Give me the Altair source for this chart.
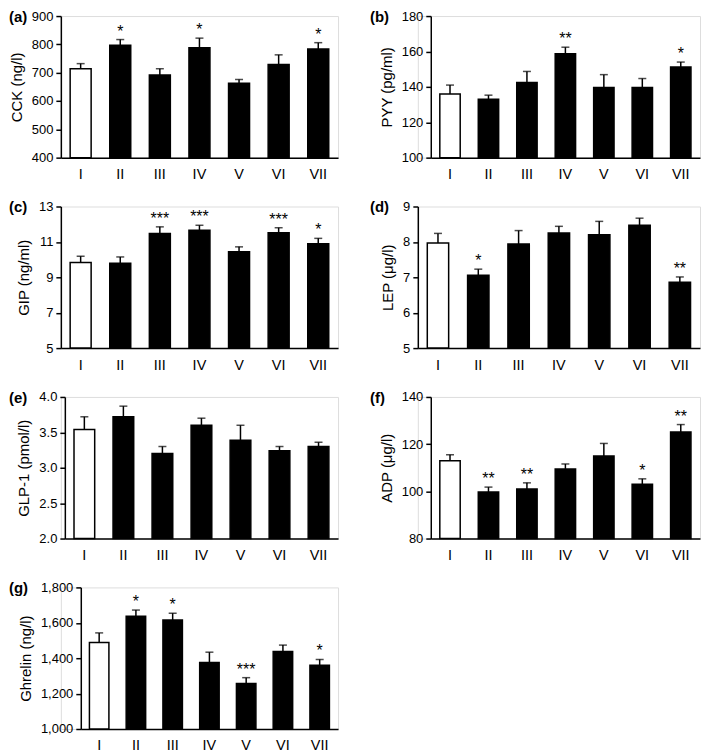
import altair as alt
import pandas as pd

groups = ["I", "II", "III", "IV", "V", "VI", "VII"]

cck_mean = [714, 797, 692, 788, 663, 729, 784]
cck_sem = [18, 20, 22, 34, 13, 34, 22]
cck_sig = ["", "*", "", "*", "", "", "*"]

pyy_mean = [136, 133, 142.4, 158.7, 139.6, 139.6, 151.2]
pyy_sem = [5, 2.3, 6.3, 3.7, 7.3, 5.1, 2.8]
pyy_sig = ["", "", "", "**", "", "", "*"]

gip_mean = [9.84, 9.80, 11.48, 11.66, 10.44, 11.52, 10.90]
gip_sem = [0.35, 0.35, 0.37, 0.28, 0.28, 0.28, 0.30]
gip_sig = ["", "", "***", "***", "", "***", "*"]

lep_mean = [7.97, 7.06, 7.94, 8.25, 8.20, 8.47, 6.86]
lep_sem = [0.27, 0.17, 0.38, 0.19, 0.38, 0.20, 0.15]
lep_sig = ["", "*", "", "", "", "", "**"]

glp_mean = [3.54, 3.72, 3.20, 3.60, 3.39, 3.24, 3.30]
glp_sem = [0.18, 0.15, 0.10, 0.10, 0.21, 0.06, 0.06]
glp_sig = ["", "", "", "", "", "", ""]

adp_mean = [113, 99.7, 101, 109.5, 115, 103, 125.2]
adp_sem = [2.5, 2.1, 2.6, 2.1, 5.3, 2.3, 3.1]
adp_sig = ["", "**", "**", "", "", "*", "**"]

ghr_mean = [1489, 1637, 1616, 1376, 1257, 1438, 1360]
ghr_sem = [54, 35, 38, 58, 33, 36, 33]
ghr_sig = ["", "*", "*", "", "***", "", "*"]

FONT = "Liberation Sans"
H = 142


def panel(label, title, mean, sem, sig, domain, ticks, fmt, width, offset, shift):
    df = pd.DataFrame({
        "group": groups,
        "mean": mean,
        "top": [m + s for m, s in zip(mean, sem)],
        "base": [domain[0]] * len(groups),
        "sig": sig,
        "ctrl": [g == "I" for g in groups],
    })
    xaxis = alt.Axis(title=None, labelAngle=0, ticks=False,
                     labelPadding=10, labelFontSize=14.5, labelColor="black",
                     labelFont=FONT, domainColor="black", domainWidth=1.5)
    xscale = alt.Scale(paddingInner=0.47, paddingOuter=0.235,
                       range=[shift, width])
    yscale = alt.Scale(domain=domain, nice=False, zero=False)
    yaxis = alt.Axis(values=ticks, format=fmt, title=title, grid=False,
                     offset=-shift,
                     tickSize=5, tickWidth=1.5, tickColor="black",
                     domainColor="black", domainWidth=1.5, labelOverlap=False,
                     labelFontSize=13, labelColor="black", labelFont=FONT,
                     labelPadding=3, titleFontSize=15, titleFont=FONT,
                     titleFontWeight="normal", titleColor="black",
                     titlePadding=7)

    def X():
        return alt.X("group:N", sort=groups, scale=xscale, axis=xaxis)

    def Y(f):
        return alt.Y(f, scale=yscale, axis=yaxis, title=title)

    base = alt.Chart(df)
    bars = base.mark_bar(stroke="black", strokeWidth=1.5).encode(
        x=X(), y=Y("mean:Q"), y2="base:Q",
        fill=alt.condition("datum.ctrl", alt.value("white"), alt.value("black")),
    )
    err = base.mark_rule(color="black", strokeWidth=1.5).encode(
        x=X(), y=Y("mean:Q"), y2="top:Q")
    cap = base.mark_tick(color="black", thickness=1.5, size=8,
                         orient="horizontal").encode(x=X(), y=Y("top:Q"))
    stars = base.transform_filter("datum.sig != ''").mark_text(
        baseline="alphabetic", dy=-3, fontSize=16,
        font=FONT, color="black").encode(
        x=X(), y=Y("top:Q"), text="sig:N")
    lab = alt.Chart(pd.DataFrame({"t": [label]})).mark_text(
        align="left", baseline="middle", fontSize=15, fontWeight="bold",
        font=FONT, color="black").encode(
        x=alt.value(-offset), y=alt.value(1), text="t:N")
    return alt.layer(bars, err, cap, stars, lab).properties(width=width, height=H)


pa = panel("(a)", "CCK (ng/l)", cck_mean, cck_sem, cck_sig, [400, 900],
           [400, 500, 600, 700, 800, 900], "d", 278, 52, 0)
pb = panel("(b)", "PYY (pg/ml)", pyy_mean, pyy_sem, pyy_sig, [100, 180],
           [100, 120, 140, 160, 180], "d", 283, 48, 13)
pc = panel("(c)", "GIP (ng/ml)", gip_mean, gip_sem, gip_sig, [5, 13],
           [5, 7, 9, 11, 13], "d", 278, 52, 0)
pd_ = panel("(d)", "LEP (μg/l)", lep_mean, lep_sem, lep_sig, [5, 9],
            [5, 6, 7, 8, 9], "d", 283, 48, 0)
pe = panel("(e)", "GLP-1 (pmol/l)", glp_mean, glp_sem, glp_sig, [2, 4],
           [2.0, 2.5, 3.0, 3.5, 4.0], ".1f", 278, 52, 4)
pf = panel("(f)", "ADP (μg/l)", adp_mean, adp_sem, adp_sig, [80, 140],
           [80, 100, 120, 140], "d", 283, 48, 13)
pg = panel("(g)", "Ghrelin (ng/l)", ghr_mean, ghr_sem, ghr_sig, [1000, 1800],
           [1000, 1200, 1400, 1600, 1800], ",.0f", 278, 52, 20)

chart = alt.concat(
    pa, pb, pc, pd_, pe, pf, pg,
    columns=2,
    spacing={"row": 49, "column": 80},
    bounds="flush",
).properties(padding={"left": 0, "top": 0, "right": 0, "bottom": 0}).configure_view(
    stroke=None
).configure(background="white")

chart.save("out.html", embed_options={"renderer": "svg", "actions": False})
